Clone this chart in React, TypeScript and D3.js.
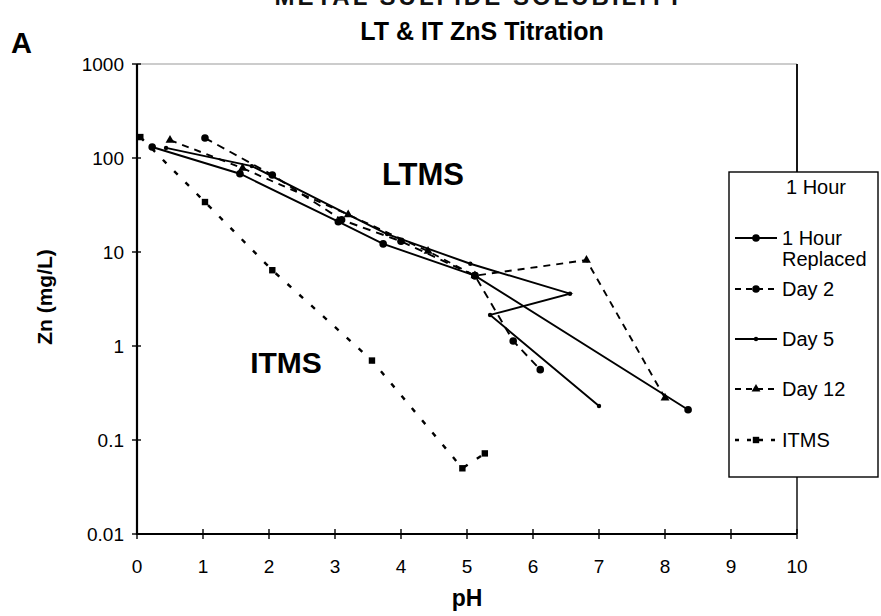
import React from "react";
import * as d3 from "d3";

// Axis ticks
const xTicks = [0, 1, 2, 3, 4, 5, 6, 7, 8, 9, 10];
const yTicks = [0.01, 0.1, 1, 10, 100, 1000];
const yTickLabels = ["0.01", "0.1", "1", "10", "100", "1000"];

// Series: pH vs dissolved Zn (mg/L)
const phReplaced = [0.23, 1.56, 3.05, 3.73, 5.12, 8.35];
const znReplaced = [131, 68, 21, 12.2, 5.6, 0.21];

const phDay2 = [1.03, 2.05, 3.1, 4.0, 5.12, 5.7, 6.11];
const znDay2 = [163, 66, 22, 13, 5.6, 1.13, 0.56];

const phDay5 = [0.44, 1.74, 3.2, 3.79, 5.05, 6.56, 5.35, 7.0];
const znDay5 = [128, 82, 25, 15.5, 7.5, 3.6, 2.14, 0.23];

const phDay12 = [0.5, 1.6, 3.2, 4.41, 5.12, 6.81, 8.0];
const znDay12 = [155, 78, 25, 10.2, 5.6, 8.2, 0.28];

const phITMS = [0.05, 1.03, 2.05, 3.56, 4.93, 5.27];
const znITMS = [167, 34, 6.4, 0.7, 0.05, 0.072];

const legendNames = ["1 Hour", "1 Hour\nReplaced", "Day 2", "Day 5", "Day 12", "ITMS"];

type Marker = "circle" | "tick" | "triangle" | "square" | "none";

interface Series {
  name: string;
  ph: number[];
  zn: number[];
  dash: string | null;
  marker: Marker;
}

const series: Series[] = [
  { name: legendNames[1], ph: phReplaced, zn: znReplaced, dash: null, marker: "circle" },
  { name: legendNames[2], ph: phDay2, zn: znDay2, dash: "8,6", marker: "circle" },
  { name: legendNames[3], ph: phDay5, zn: znDay5, dash: null, marker: "tick" },
  { name: legendNames[4], ph: phDay12, zn: znDay12, dash: "7,6", marker: "triangle" },
  { name: legendNames[5], ph: phITMS, zn: znITMS, dash: "5,11", marker: "square" },
];

const FONT = "'Liberation Sans', Arial, sans-serif";

const left = 137, right = 797, top = 64, bottom = 534;
const x = d3.scaleLinear().domain([0, 10]).range([left, right]);
const y = d3.scaleLog().domain([0.01, 1000]).range([bottom, top]);

function MarkerShape({ kind, cx, cy }: { kind: Marker; cx: number; cy: number }) {
  if (kind === "circle") return <circle cx={cx} cy={cy} r={3.8} fill="#000" />;
  if (kind === "tick") return <circle cx={cx} cy={cy} r={2.2} fill="#000" />;
  if (kind === "triangle") {
    const p = d3.symbol(d3.symbolTriangle, 34)()!;
    return <path d={p} transform={`translate(${cx},${cy})`} fill="#000" />;
  }
  if (kind === "square") return <rect x={cx - 3.2} y={cy - 3.2} width={6.4} height={6.4} fill="#000" />;
  return null;
}

export default function App() {
  const line = d3
    .line<[number, number]>()
    .x((d) => x(d[0]))
    .y((d) => y(d[1]));

  const legendX = 729, legendY = 172, legendW = 149, legendH = 305;
  const entryY = [187, 238, 289, 339, 389, 440];

  return (
    <svg
      width={881}
      height={616}
      style={{ position: "absolute", left: 0, top: 0, background: "#fff" }}
      fontFamily={FONT}
    >
      <rect width={881} height={616} fill="#fff" />
      {/* heading line running off the top edge */}
      <text x={480} y={5} textAnchor="middle" fontWeight="bold" fontSize={24} letterSpacing={3} fill="#111">
        METAL SULFIDE SOLUBILITY
      </text>
      <text x={11} y={53} fontWeight="bold" fontSize={29} fill="#000">A</text>
      <text x={482} y={40} textAnchor="middle" fontWeight="bold" fontSize={25} fill="#000">
        LT &amp; IT ZnS Titration
      </text>

      {/* plot frame */}
      <line x1={left} x2={right} y1={top} y2={top} stroke="#999" strokeWidth={1} />
      <line x1={right} x2={right} y1={top} y2={bottom} stroke="#000" strokeWidth={1.4} />
      <line x1={left} x2={left} y1={top} y2={bottom + 1} stroke="#000" strokeWidth={2.2} />
      <line x1={left - 1} x2={right} y1={bottom} y2={bottom} stroke="#000" strokeWidth={2.2} />

      {/* y axis ticks and labels */}
      {yTicks.map((t, i) => (
        <g key={`y${t}`}>
          <line x1={left - 5} x2={left + 4} y1={y(t)} y2={y(t)} stroke="#000" strokeWidth={1.4} />
          <text x={124} y={y(t) + 7} textAnchor="end" fontSize={19} fill="#000">
            {yTickLabels[i]}
          </text>
        </g>
      ))}
      {/* x axis ticks and labels */}
      {xTicks.map((t) => (
        <g key={`x${t}`}>
          <line x1={x(t)} x2={x(t)} y1={bottom - 5} y2={bottom + 5} stroke="#000" strokeWidth={1.4} />
          <text x={x(t)} y={573} textAnchor="middle" fontSize={19} fill="#000">
            {t}
          </text>
        </g>
      ))}

      <text x={467} y={606} textAnchor="middle" fontWeight="bold" fontSize={23} fill="#000">pH</text>
      <text
        transform="translate(52,297) rotate(-90)"
        textAnchor="middle"
        fontWeight="bold"
        fontSize={21}
        fill="#000"
      >
        Zn (mg/L)
      </text>

      {/* region labels */}
      <text x={423} y={185} textAnchor="middle" fontWeight="bold" fontSize={31} fill="#000">LTMS</text>
      <text x={286} y={373} textAnchor="middle" fontWeight="bold" fontSize={30} fill="#000">ITMS</text>

      {/* data series */}
      {series.map((s) => {
        const pts = s.ph.map((p, i) => [p, s.zn[i]] as [number, number]);
        return (
          <g key={s.name}>
            <path
              d={line(pts)!}
              fill="none"
              stroke="#000"
              strokeWidth={s.marker === "square" ? 2.4 : 1.9}
              strokeDasharray={s.dash ?? undefined}
            />
            {pts.map((d, i) => (
              <MarkerShape key={i} kind={s.marker} cx={x(d[0])} cy={y(d[1])} />
            ))}
          </g>
        );
      })}

      {/* legend */}
      <rect x={legendX} y={legendY} width={legendW} height={legendH} fill="#fff" stroke="#000" strokeWidth={1.4} />
      <line x1={right} x2={right} y1={top} y2={legendY} stroke="#000" strokeWidth={1.4} />
      {legendNames.map((name, i) => {
        const ey = entryY[i];
        const s = i === 0 ? null : series[i - 1];
        const lines = name.split("\n");
        return (
          <g key={name}>
            {s && (
              <>
                <line
                  x1={735}
                  x2={777}
                  y1={ey}
                  y2={ey}
                  stroke="#000"
                  strokeWidth={s.marker === "square" ? 2.4 : 1.8}
                  strokeDasharray={s.dash ? (s.marker === "square" ? "4,8" : "6,5") : undefined}
                />
                <MarkerShape kind={s.marker} cx={756} cy={ey} />
              </>
            )}
            {lines.map((t, k) => (
              <text key={k} x={i === 0 ? 786 : 782} y={ey + 7 + k * 21} fontSize={20} fill="#000">
                {t}
              </text>
            ))}
          </g>
        );
      })}
    </svg>
  );
}
